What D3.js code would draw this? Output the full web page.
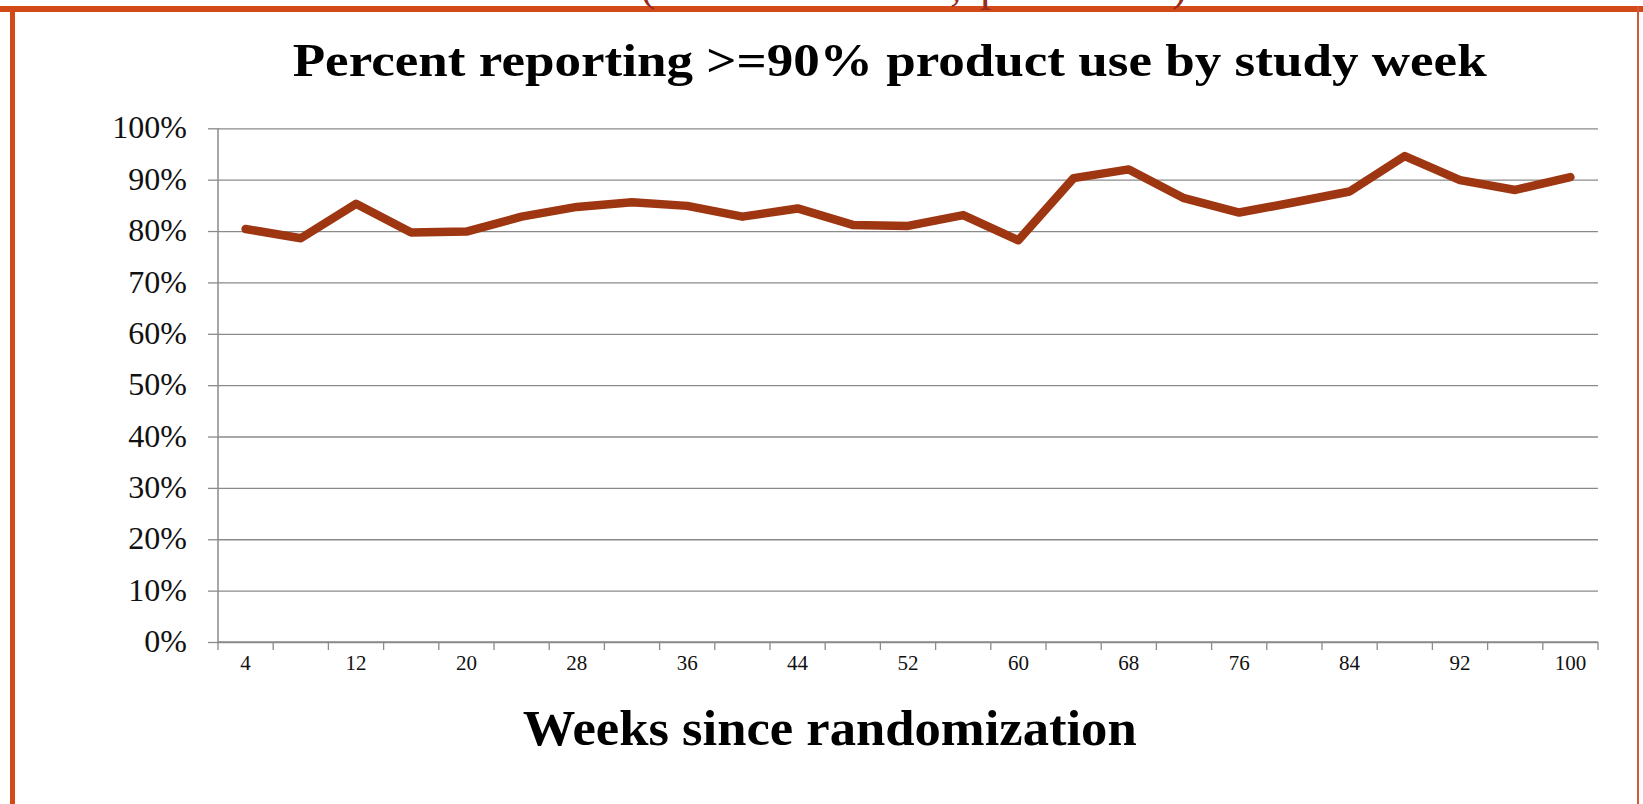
<!DOCTYPE html>
<html>
  <head>
    <meta charset="utf-8">
    <title>Percent reporting >=90% product use by study week</title>
    <script src="https://d3js.org/d3.v7.min.js"></script>
    <style>
      body { margin: 0; background: #fff; }
      svg, svg g, svg text { font-family: "Liberation Serif", "Times New Roman", serif; }
      svg { display: block; }
      .grid line { stroke: #8a8a8a; stroke-width: 1.3; }
      .grid .domain { display: none; }
      .ylab text { font-size: 32px; fill: #111; }
      .xlab text { font-size: 21px; fill: #111; }
      .xlab .domain, .xlab line { display: none; }
    </style>
  </head>
  <body>
    <svg id="chart" width="1643" height="804"></svg>
    <script>
      // data
      weeks = [4, 8, 12, 16, 20, 24, 28, 32, 36, 40, 44, 48, 52, 56, 60, 64, 68, 72, 76, 80, 84, 88, 92, 96, 100];
      pctUse = [0.804, 0.786, 0.853, 0.797, 0.799, 0.828, 0.847, 0.856, 0.849, 0.828, 0.844, 0.812, 0.810, 0.831, 0.782,
                0.903, 0.920, 0.864, 0.836, 0.856, 0.877, 0.946, 0.899, 0.880, 0.905];
      yTicks = [0, 0.1, 0.2, 0.3, 0.4, 0.5, 0.6, 0.7, 0.8, 0.9, 1];
      xTickLabels = [4, 12, 20, 28, 36, 44, 52, 60, 68, 76, 84, 92, 100];
      title = "Percent reporting >=90% product use by study week";
      xTitle = "Weeks since randomization";

      svg = d3.select("#chart");
      margin = { top: 128.3, right: 45, bottom: 162, left: 218 };
      width = 1643 - margin.left - margin.right;
      height = 804 - margin.top - margin.bottom;

      // slide frame
      svg.append("rect").attr("x", 0).attr("y", 6).attr("width", 1643).attr("height", 6).attr("fill", "#d24a18");
      svg.append("rect").attr("x", 10).attr("y", 6).attr("width", 5).attr("height", 798).attr("fill", "#d24a18");
      svg.append("rect").attr("x", 1637).attr("y", 6).attr("width", 2).attr("height", 798).attr("fill", "#d4573a");
      // cut-off subtitle from the slide above
      cut = svg.append("text").attr("y", 0).attr("font-size", 46).attr("fill", "#9a2a1c");
      [["(", 640], [",", 950], ["p", 980], [")", 1172]].forEach(function(d) {
        cut.append("tspan").attr("x", d[1]).text(d[0]);
      });

      g = svg.append("g").attr("transform", "translate(" + margin.left + "," + margin.top + ")");

      x = d3.scaleBand().domain(weeks).range([0, width]).padding(0);
      y = d3.scaleLinear().domain([0, 1]).range([height, 0]);

      // gridlines + left ticks
      g.append("g")
        .attr("class", "grid")
        .call(d3.axisLeft(y).tickValues(yTicks).tickSize(-width).tickFormat(""));
      g.append("g")
        .attr("class", "grid")
        .call(d3.axisLeft(y).tickValues(yTicks).tickSize(10).tickFormat(""));
      g.append("g")
        .attr("class", "ylab")
        .call(d3.axisLeft(y).tickValues(yTicks).tickSize(0).tickPadding(31).tickFormat(d3.format(".0%")))
        .call(function(a) { a.select(".domain").remove(); })
        .selectAll("text").attr("dy", "0.3em");

      // axis lines
      g.append("line").attr("x1", 0).attr("x2", 0).attr("y1", 0).attr("y2", height)
        .attr("stroke", "#8a8a8a").attr("stroke-width", 1.5);
      g.append("line").attr("x1", 0).attr("x2", width).attr("y1", height).attr("y2", height)
        .attr("stroke", "#8a8a8a").attr("stroke-width", 1.5);

      // category boundary ticks
      g.selectAll(".xtick")
        .data(weeks.map(function(d) { return x(d); }).concat([x(weeks[weeks.length - 1]) + x.bandwidth()]))
        .enter().append("line")
          .attr("class", "xtick")
          .attr("x1", function(d) { return d; })
          .attr("x2", function(d) { return d; })
          .attr("y1", height)
          .attr("y2", height + 8)
          .attr("stroke", "#8a8a8a")
          .attr("stroke-width", 1.3);

      g.append("g")
        .attr("class", "xlab")
        .attr("transform", "translate(0," + height + ")")
        .call(d3.axisBottom(x).tickValues(xTickLabels).tickSize(0).tickPadding(22))
        .selectAll("text").attr("dy", "0.3em");

      // line
      line = d3.line()
        .x(function(d, i) { return x(weeks[i]) + x.bandwidth() / 2; })
        .y(function(d) { return y(d); });
      g.append("path")
        .datum(pctUse)
        .attr("d", line)
        .attr("fill", "none")
        .attr("stroke", "#9e3612")
        .attr("stroke-width", 8.5)
        .attr("stroke-linejoin", "round")
        .attr("stroke-linecap", "round");

      // titles
      svg.append("text")
        .attr("x", 292.7).attr("y", 76)
        .attr("font-size", 47).attr("font-weight", "bold").attr("fill", "#000")
        .attr("textLength", 1194).attr("lengthAdjust", "spacingAndGlyphs")
        .text(title);
      svg.append("text")
        .attr("x", 522.7).attr("y", 745)
        .attr("font-size", 50).attr("font-weight", "bold").attr("fill", "#000")
        .attr("textLength", 614).attr("lengthAdjust", "spacingAndGlyphs")
        .text(xTitle);
    </script>
  </body>
</html>
